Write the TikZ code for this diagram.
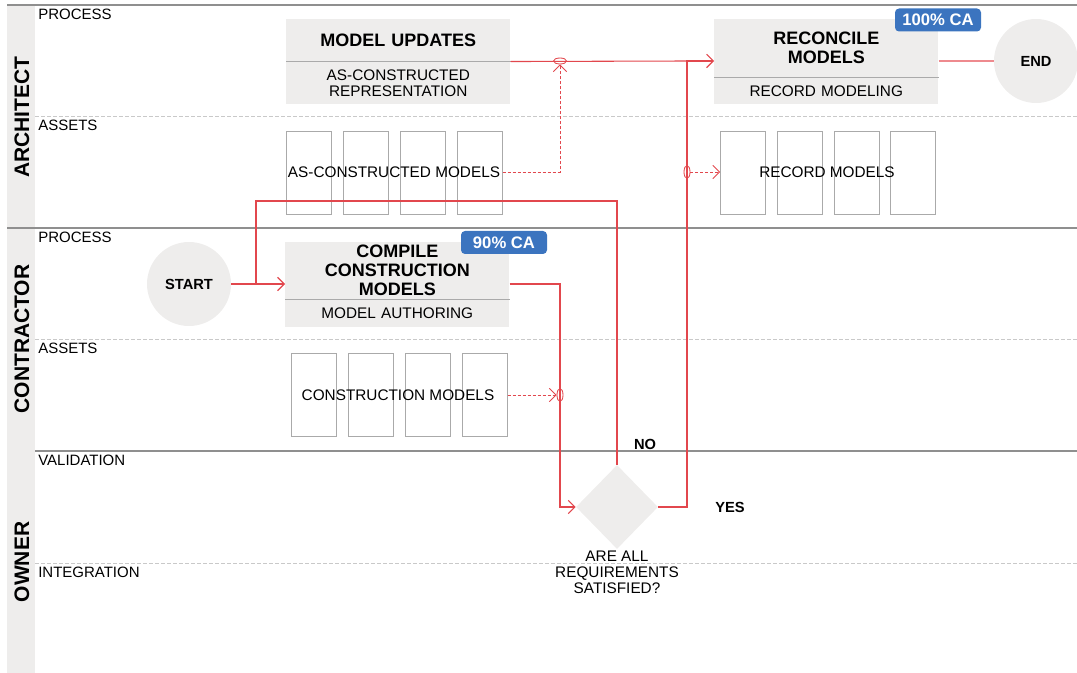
\documentclass[tikz,border=0pt]{standalone}
\usepackage{fontspec}
\setmainfont{Liberation Sans}
\usetikzlibrary{positioning,shapes.geometric,arrows.meta}
\definecolor{boxgray}{HTML}{EEEDEC}
\definecolor{sepgray}{HTML}{8F8F8F}
\definecolor{dashgray}{HTML}{C9C9C9}
\definecolor{framegray}{HTML}{AAAAAA}
\definecolor{flowred}{HTML}{E2474D}
\definecolor{flowpink}{HTML}{EE8A8E}
\definecolor{badgeblue}{HTML}{3B74BF}

\begin{document}
\begin{tikzpicture}[x=0.75pt, y=-0.75pt, >={Straight Barb[length=5pt,width=10pt]},
          lane/.style={rotate=90, inner sep=0pt, font=\fontsize{15.75}{16}\selectfont\bfseries},
          sublane/.style={anchor=west, inner sep=0pt, font=\fontsize{11.25}{12}\selectfont},
          title/.style={fill=boxgray, minimum width=168pt, text width=160pt, align=center,
            inner sep=0pt, font=\fontsize{13.5}{14.25}\selectfont\bfseries},
          sub/.style={fill=boxgray, minimum width=168pt, text width=160pt, align=center,
            inner sep=0pt, font=\fontsize{11.5}{12}\selectfont},
          asset/.style={draw=framegray, fill=white, minimum width=33.75pt, minimum height=62.25pt,
            inner sep=0pt, anchor=north west},
          assettext/.style={inner sep=1pt, font=\fontsize{11.5}{12}\selectfont},
          term/.style={circle, fill=boxgray, minimum size=63pt, inner sep=0pt,
            font=\fontsize{11}{12}\selectfont\bfseries},
          decision/.style={diamond, fill=boxgray, minimum width=61.5pt, minimum height=63pt, inner sep=0pt},
          badge/.style={fill=badgeblue, text=white, rounded corners=3pt, minimum width=64.5pt,
            minimum height=17.25pt, inner sep=0pt, font=\fontsize{12.5}{13}\selectfont\bfseries},
          answer/.style={inner sep=0pt, font=\fontsize{11}{12}\selectfont\bfseries},
          sep/.style={draw=sepgray, line width=1.1pt},
          subsep/.style={draw=dashgray, line width=0.75pt, dash pattern=on 3pt off 1.5pt},
          divider/.style={draw=framegray, line width=0.75pt},
          flow/.style={draw=flowred, line width=0.8pt},
          flowlight/.style={draw=flowpink, line width=0.8pt},
          assocline/.style={draw=flowred, line width=0.65pt, dash pattern=on 2.25pt off 1.5pt},
          assoch/.style={ellipse, draw=flowred, line width=0.65pt, minimum width=9.75pt, minimum height=4.5pt, inner sep=0pt},
          assocv/.style={ellipse, draw=flowred, line width=0.65pt, minimum width=4.5pt, minimum height=9.75pt, inner sep=0pt}]

          \useasboundingbox (0,0) rectangle (1077,673);
          \fill[boxgray] (7,5) rectangle (35,673);
          \draw[sep] (7,5) -- (1077,5);
          \draw[sep] (7,228) -- (1077,228);
          \draw[sep] (35,451) -- (1077,451);
          \foreach \y in {117,340,563} \draw[subsep] (35,\y) -- (1077,\y);

          \node[lane] (arch) at (22,117) {ARCHITECT};
          \node[lane] (contr) at (22,339) {CONTRACTOR};
          \node[lane] (own) at (22,562) {OWNER};
          \node[sublane] (proc1) at (38,14) {PROCESS};
          \node[sublane] (ass1) at (38,125) {ASSETS};
          \node[sublane] (proc2) at (38,237) {PROCESS};
          \node[sublane] (ass2) at (38,348) {ASSETS};
          \node[sublane] (valid) at (38,460) {VALIDATION};
          \node[sublane] (integ) at (38,572) {INTEGRATION};

          \node[title, minimum height=31.5pt, anchor=north west] (upd) at (286,19) {MODEL UPDATES};
          \node[sub, minimum height=31.5pt, below=0pt of upd] (updsub) {AS-CONSTRUCTED\\REPRESENTATION};
          \draw[divider] (upd.south west) -- (upd.south east);

          \node[title, minimum height=43.5pt, anchor=north west] (rec) at (714,19) {RECONCILE\\MODELS};
          \node[sub, minimum height=19.5pt, below=0pt of rec] (recsub) {RECORD MODELING};
          \draw[divider] (rec.south west) -- (rec.south east);

          \node[title, minimum height=42.75pt, anchor=north west] (cmp) at (285,242) {COMPILE\\CONSTRUCTION\\MODELS};
          \node[sub, minimum height=20.25pt, below=0pt of cmp] (cmpsub) {MODEL AUTHORING};
          \draw[divider] (cmp.south west) -- (cmp.south east);

          \node[badge] (ca100) at (938,20) {100\% CA};
          \node[badge] (ca90) at (504,242.5) {90\% CA};

          \foreach \i/\x in {1/286,2/343,3/400,4/457} \node[asset] (ac\i) at (\x,131) {};
          \node[assettext] (ac) at (394,172) {AS-CONSTRUCTED MODELS};
          \foreach \i/\x in {1/720,2/777,3/834,4/890} \node[asset] (rm\i) at (\x,131) {};
          \node[assettext] (rm) at (827,172) {RECORD MODELS};
          \foreach \i/\x in {1/291,2/348,3/405,4/462} \node[asset] (cm\i) at (\x,353) {};
          \node[assettext] (cm) at (398,395) {CONSTRUCTION MODELS};

          \node[term] (start) at (189,284) {START};
          \node[term] (end) at (1036,61) {END};
          \node[decision] (dec) at (617,507) {};
          \node[below=1pt of dec, align=center, inner sep=0pt, font=\fontsize{11.5}{12}\selectfont] (decl)
            {ARE ALL\\REQUIREMENTS\\SATISFIED?};
          \node[answer] (no) at (645,444) {NO};
          \node[answer] (yes) at (730,507) {YES};

          \node[assoch] (hv) at (560,61) {};
          \node[assocv] (cv) at (560,395) {};
          \node[assocv] (rv) at (687,172) {};
          \coordinate (loop) at (256,201);

          \draw[flow] (dec.north) |- (loop) -- (loop |- start.east);
          \draw[flow,->] (start.east) -- (start.east -| cmp.west);
          \draw[flow,->] (cmp.east |- start.east) -| (cv.center) |- (dec.west);
          \draw[flow,->] (dec.east) -| (rv.center) |- (rec.west |- hv.center);
          \draw[flow] (upd.south east) -- (rv.center |- hv.center);
          \draw[flowlight] (end.west -| rec.east) -- (end.west);
          \draw[assocline,->] (ac.east -| ac4.east) -| (hv.south);
          \draw[assocline,->] (cm.east -| cm4.east) -- (cv.west);
          \draw[assocline,->] (rv.east) -- (rm.west -| rm1.west);
        \end{tikzpicture}
\end{document}
